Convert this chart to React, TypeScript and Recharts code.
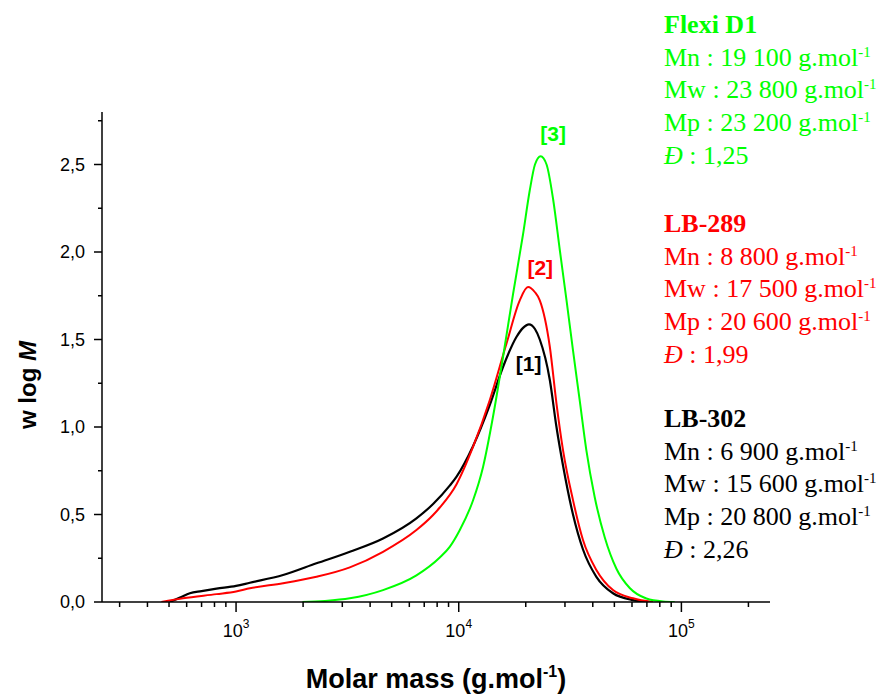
import { LineChart, Line, XAxis, YAxis, ReferenceDot } from 'recharts'

const W = 884
const H = 698
const SANS = '"Liberation Sans", Arial, sans-serif'
const SERIF = '"Liberation Serif", "Times New Roman", serif'

// LB-302 (black)
const blackMass = [504, 560, 620, 700, 817, 1000, 1153, 1626, 2296, 3243, 4571, 6457, 7671, 9110, 9765, 11590, 13780, 15810, 18160, 19400, 20680, 22000, 23120, 25640, 27480, 29400, 32600, 36150, 41510, 49300, 60650, 69640]
const blackW = [0, 0.025, 0.05, 0.062, 0.076, 0.092, 0.11, 0.154, 0.221, 0.287, 0.363, 0.478, 0.56, 0.665, 0.715, 0.89, 1.125, 1.343, 1.514, 1.565, 1.587, 1.56, 1.5, 1.27, 1.0, 0.78, 0.5, 0.3, 0.144, 0.05, 0.011, 0]

// LB-289 (red)
const redMass = [462, 578, 817, 1000, 1153, 1626, 2296, 3243, 4571, 6457, 7671, 8220, 9765, 11590, 13780, 16390, 18800, 20470, 22000, 23120, 25640, 27480, 29400, 32600, 36150, 41510, 49300, 60650, 74500]
const redW = [0, 0.021, 0.045, 0.06, 0.078, 0.107, 0.144, 0.198, 0.287, 0.411, 0.497, 0.54, 0.672, 0.886, 1.153, 1.477, 1.724, 1.8, 1.77, 1.724, 1.46, 1.134, 0.868, 0.582, 0.354, 0.183, 0.068, 0.021, 0]

// Flexi D1 (green)
const greenMass = [1987, 2500, 3243, 4571, 6457, 8220, 9110, 10100, 11590, 12860, 14260, 15810, 17540, 19440, 20830, 22000, 23330, 24800, 26550, 28450, 30490, 32600, 34930, 37420, 40790, 45250, 51080, 58600, 69640, 82640, 93300]
const greenW = [0, 0.006, 0.021, 0.068, 0.152, 0.254, 0.315, 0.41, 0.58, 0.772, 1.06, 1.4, 1.76, 2.1, 2.35, 2.5, 2.547, 2.5, 2.3, 2.01, 1.724, 1.438, 1.153, 0.868, 0.6, 0.37, 0.19, 0.08, 0.02, 0.003, 0]

const xTicks = [300, 400, 500, 600, 700, 800, 900, 1000, 2000, 3000, 4000, 5000, 6000, 7000, 8000, 9000, 10000, 20000, 30000, 40000, 50000, 60000, 70000, 80000, 90000, 100000, 200000]
const yTicks = [0, 0.25, 0.5, 0.75, 1, 1.25, 1.5, 1.75, 2, 2.25, 2.5, 2.75]

// peak labels
const peakText = ['[1]', '[2]', '[3]']
const peakMass = [20600, 23230, 26550]
const peakW = [1.364, 1.912, 2.677]

// sample summary block on the right
const sampleNames = ['Flexi D1', 'LB-289', 'LB-302']
const sampleColors = ['#00ff00', '#ff0000', '#000000']
const mnValues = ['19 100', '8 800', '6 900']
const mwValues = ['23 800', '17 500', '15 600']
const mpValues = ['23 200', '20 600', '20 800']
const dispersity = ['1,25', '1,99', '2,26']
const blockTops = [33, 232, 427]

const toRows = (m: number[], w: number[]) => m.map((x, i) => ({ m: x, w: w[i] }))
const series = [
  { key: 'black', data: toRows(blackMass, blackW), color: '#000000', width: 2.2 },
  { key: 'red', data: toRows(redMass, redW), color: '#ff0000', width: 2 },
  { key: 'green', data: toRows(greenMass, greenW), color: '#00ff00', width: 2 },
]
const peakColors = ['#000000', '#ff0000', '#00ff00']

function XTick({ x, y, payload }: any) {
  const v = payload.value
  const e = Math.log10(v)
  const major = Math.abs(e - Math.round(e)) < 1e-6
  return (
    <g>
      <line x1={x} x2={x} y1={y} y2={y + (major ? 10 : 5)} stroke="#000" strokeWidth={1.5} />
      {major && (
        <text x={x} y={y + 35} textAnchor="middle" fontFamily={SANS} fontSize={18} fill="#000">
          10<tspan dy={-9} fontSize={12}>{Math.round(e)}</tspan>
        </text>
      )}
    </g>
  )
}

function YTick({ x, y, payload }: any) {
  const v = payload.value
  const major = Math.abs(v * 2 - Math.round(v * 2)) < 1e-6
  return (
    <g>
      <line x1={x - (major ? 8 : 4)} x2={x} y1={y} y2={y} stroke="#000" strokeWidth={1.5} />
      {major && (
        <text x={x - 17} y={y + 6} textAnchor="end" fontFamily={SANS} fontSize={18} fill="#000">
          {v.toFixed(1).replace('.', ',')}
        </text>
      )}
    </g>
  )
}

function Unit() {
  return (
    <>
      {' g.mol'}
      <tspan dy={-9} fontSize={15}>-1</tspan>
    </>
  )
}

export default function App() {
  const step = 32.7
  return (
    <div style={{ position: 'absolute', left: 0, top: 0, width: W, height: H, background: '#fff' }}>
      <LineChart width={W} height={H} margin={{ top: 112, right: 114, left: 0, bottom: 0 }}>
        <XAxis
          dataKey="m"
          type="number"
          scale="log"
          domain={[250, 250000]}
          allowDataOverflow
          ticks={xTicks}
          interval={0}
          height={96}
          tickSize={0}
          tickMargin={0}
          tickLine={false}
          axisLine={{ stroke: '#000', strokeWidth: 1.5 }}
          tick={<XTick />}
        />
        <YAxis
          dataKey="w"
          type="number"
          domain={[0, 2.8]}
          allowDataOverflow
          ticks={yTicks}
          interval={0}
          width={102}
          tickSize={0}
          tickMargin={0}
          tickLine={false}
          axisLine={{ stroke: '#000', strokeWidth: 1.5 }}
          tick={<YTick />}
        />
        {series.map((s) => (
          <Line
            key={s.key}
            data={s.data}
            dataKey="w"
            type="monotone"
            stroke={s.color}
            strokeWidth={s.width}
            dot={false}
            isAnimationActive={false}
          />
        ))}
        {peakText.map((t, i) => (
          <ReferenceDot
            key={t}
            x={peakMass[i]}
            y={peakW[i]}
            r={0}
            fill="none"
            stroke="none"
            label={{ value: t, position: 'center', fill: peakColors[i], fontSize: 21, fontWeight: 'bold', fontFamily: SANS }}
          />
        ))}
      </LineChart>

      <svg width={W} height={H} style={{ position: 'absolute', left: 0, top: 0, pointerEvents: 'none' }}>
        <text
          x={36}
          y={385}
          transform="rotate(-90, 36, 385)"
          textAnchor="middle"
          fontFamily={SANS}
          fontWeight="bold"
          fontSize={24}
          fill="#000"
        >
          w log <tspan fontStyle="italic">M</tspan>
        </text>
        <text x={436} y={688} textAnchor="middle" fontFamily={SANS} fontWeight="bold" fontSize={27} fill="#000">
          Molar mass (g.mol<tspan dy={-11} fontSize={16}>-1</tspan>
          <tspan dy={11}>)</tspan>
        </text>

        {sampleNames.map((name, i) => {
          const y0 = blockTops[i]
          return (
            <g key={name} fill={sampleColors[i]} fontFamily={SERIF} fontSize={26}>
              <text x={664} y={y0} fontWeight="bold">{name}</text>
              <text x={664} y={y0 + step}>Mn : {mnValues[i]}<Unit /></text>
              <text x={664} y={y0 + step * 2}>Mw : {mwValues[i]}<Unit /></text>
              <text x={664} y={y0 + step * 3}>Mp : {mpValues[i]}<Unit /></text>
              <text x={664} y={y0 + step * 4}>
                <tspan fontStyle="italic">Đ</tspan> : {dispersity[i]}
              </text>
            </g>
          )
        })}
      </svg>
    </div>
  )
}
